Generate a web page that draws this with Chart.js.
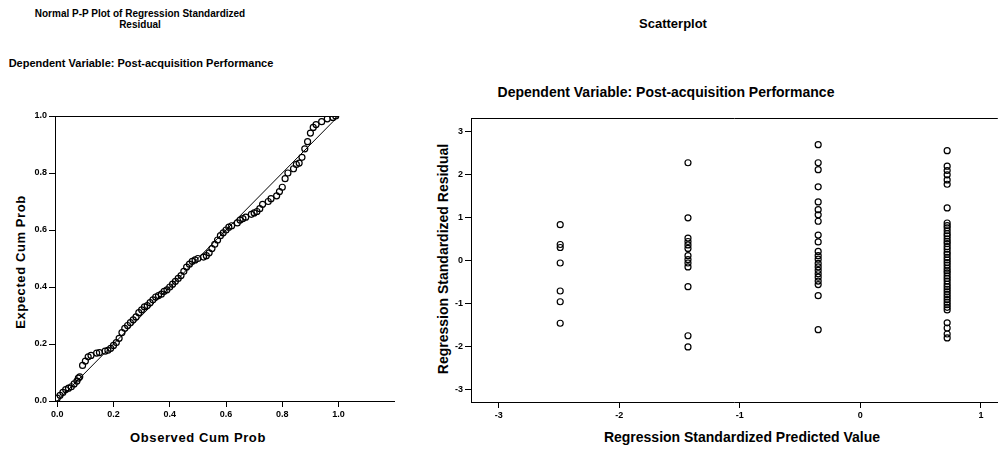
<!DOCTYPE html>
<html>
<head>
<meta charset="utf-8">
<script src="https://cdn.jsdelivr.net/npm/chart.js@4/dist/chart.umd.min.js"></script>
<style>
  html, body { margin: 0; padding: 0; background: #fff; }
  body { width: 1003px; height: 452px; overflow: hidden; position: relative;
         font-family: "Liberation Sans", Arial, sans-serif; font-weight: bold; color: #000; }
  .c { position: absolute; white-space: nowrap; text-align: center; transform: translate(-50%, -50%); }
  .v { transform: translate(-50%, -50%) rotate(-90deg); }
  canvas { position: absolute; top: 0; }
</style>
</head>
<body>
<div class="c" style="left:140px; top:19px; font-size:10px; line-height:11px;">Normal P-P Plot of Regression Standardized<br>Residual</div>
<div class="c" style="left:141px; top:63px; font-size:11px;">Dependent Variable: Post-acquisition Performance</div>
<div class="c" style="left:198px; top:437px; font-size:13px; letter-spacing:0.6px;">Observed Cum Prob</div>
<div class="c v" style="left:20px; top:262px; font-size:13px; letter-spacing:0.6px;">Expected Cum Prob</div>

<div class="c" style="left:673px; top:23px; font-size:13px;">Scatterplot</div>
<div class="c" style="left:666px; top:92px; font-size:14px;">Dependent Variable: Post-acquisition Performance</div>
<div class="c" style="left:742px; top:437px; font-size:14px;">Regression Standardized Predicted Value</div>
<div class="c v" style="left:443px; top:259px; font-size:14px;">Regression Standardized Residual</div>

<canvas id="pp" width="400" height="452" style="left:0;"></canvas>
<canvas id="sc" width="603" height="452" style="left:400px;"></canvas>

<script>
// ---- Normal P-P plot: observed vs expected cumulative probability ----
const ppTicks = [0.0, 0.2, 0.4, 0.6, 0.8, 1.0];
const ppDiagonal = [0, 1];
const ppObserved = [
  0.00, 0.01, 0.02, 0.03, 0.04, 0.05, 0.06, 0.07, 0.075, 0.08,
  0.09, 0.10, 0.11, 0.12, 0.14, 0.15, 0.17, 0.18, 0.19, 0.20,
  0.21, 0.22, 0.23, 0.24, 0.25, 0.26, 0.27, 0.28, 0.29, 0.30,
  0.31, 0.32, 0.33, 0.34, 0.35, 0.36, 0.37, 0.38, 0.39, 0.40,
  0.41, 0.42, 0.43, 0.44, 0.45, 0.46, 0.47, 0.48, 0.49, 0.50,
  0.52, 0.53, 0.54, 0.55, 0.56, 0.57, 0.58, 0.59, 0.60, 0.61,
  0.62, 0.64, 0.65, 0.66, 0.67, 0.69, 0.70, 0.71, 0.72, 0.73,
  0.75, 0.76, 0.78, 0.79, 0.80, 0.81, 0.82, 0.84, 0.85, 0.86,
  0.87, 0.88, 0.89, 0.90, 0.91, 0.92, 0.94, 0.96, 0.98, 0.99
];
const ppExpected = [
  0.010, 0.020, 0.030, 0.040, 0.045, 0.050, 0.060, 0.070, 0.080, 0.085,
  0.125, 0.140, 0.155, 0.160, 0.168, 0.170, 0.175, 0.178, 0.185, 0.195,
  0.205, 0.220, 0.240, 0.255, 0.265, 0.275, 0.285, 0.295, 0.310, 0.320,
  0.330, 0.335, 0.345, 0.355, 0.365, 0.370, 0.375, 0.385, 0.390, 0.400,
  0.410, 0.420, 0.430, 0.440, 0.455, 0.470, 0.480, 0.490, 0.495, 0.500,
  0.505, 0.510, 0.520, 0.535, 0.550, 0.565, 0.580, 0.590, 0.600, 0.610,
  0.615, 0.625, 0.635, 0.640, 0.645, 0.655, 0.660, 0.665, 0.675, 0.690,
  0.700, 0.710, 0.720, 0.735, 0.750, 0.780, 0.800, 0.815, 0.830, 0.835,
  0.855, 0.885, 0.910, 0.940, 0.960, 0.970, 0.980, 0.990, 0.995, 1.000
];

// ---- Scatterplot: standardized predicted value vs standardized residual ----
const predTicks = [-3, -2, -1, 0, 1];
const residTicks = [-3, -2, -1, 0, 1, 2, 3];
const predictedLevels = [-2.49, -1.43, -0.35, 0.72];
const residualsLevel1 = [0.84, 0.38, 0.31, -0.05, -0.70, -0.95, -1.45];
const residualsLevel2 = [2.28, 1.00, 0.53, 0.45, 0.37, 0.29, 0.12, 0.03, -0.05, -0.14, -0.60, -1.74, -2.00];
const residualsLevel3 = [2.70, 2.28, 2.12, 1.72, 1.37, 1.19, 1.07, 0.92, 0.60, 0.44, 0.22, 0.12, 0.04,
                         -0.06, -0.14, -0.22, -0.30, -0.38, -0.47, -0.55, -0.81, -1.60];
const residualsLevel4 = [2.56, 2.20, 2.10, 2.00, 1.88, 1.78, 1.23, 0.88, 0.82, 0.77, 0.70, 0.63, 0.58,
                         0.51, 0.45, 0.40, 0.33, 0.27, 0.20, 0.15, 0.08, 0.02, -0.04, -0.10, -0.17,
                         -0.23, -0.28, -0.35, -0.41, -0.47, -0.54, -0.60, -0.66, -0.72, -0.78, -0.84,
                         -0.90, -0.96, -1.02, -1.08, -1.14, -1.44, -1.56, -1.70, -1.79];

const FONT = '"Liberation Sans", Arial, sans-serif';

// thin frame line along the top of the plot area
const topRule = {
  id: 'topRule',
  afterDraw(chart, args, opts) {
    const { ctx, chartArea, scales } = chart;
    const xEnd = opts.to != null ? scales.x.getPixelForValue(opts.to) : chartArea.right;
    ctx.save();
    ctx.strokeStyle = '#000';
    ctx.lineWidth = 1;
    ctx.beginPath();
    ctx.moveTo(chartArea.left, Math.round(chartArea.top) + 0.5);
    ctx.lineTo(xEnd, Math.round(chartArea.top) + 0.5);
    ctx.stroke();
    ctx.restore();
  }
};

function axis(min, max, tickValues, fmt, fitSize, isX, fontSize) {
  return {
    type: 'linear',
    min: min,
    max: max,
    afterBuildTicks: s => { s.ticks = tickValues.map(v => ({ value: v })); },
    afterFit: s => { if (isX) s.height = fitSize; else s.width = fitSize; },
    grid: { display: true, drawOnChartArea: false, drawTicks: true, tickLength: 6, color: '#000', lineWidth: 1 },
    border: { display: true, color: '#000', width: 1 },
    ticks: {
      autoSkip: false, maxRotation: 0, padding: 2, color: '#000',
      font: { family: FONT, size: fontSize, weight: 'bold' },
      callback: v => fmt(v)
    }
  };
}

const hollow = {
  pointStyle: 'circle',
  pointRadius: 3,
  pointBorderWidth: 1.2,
  pointBorderColor: '#000',
  pointBackgroundColor: 'rgba(0,0,0,0)',
  borderColor: '#000',
  backgroundColor: 'rgba(0,0,0,0)',
  showLine: false
};

new Chart(document.getElementById('pp'), {
  type: 'scatter',
  data: {
    datasets: [
      {
        type: 'line',
        data: ppDiagonal.map(v => ({ x: v, y: v })),
        borderColor: '#000', borderWidth: 1, pointRadius: 0, fill: false, tension: 0
      },
      Object.assign({ data: ppObserved.map((x, i) => ({ x: x, y: ppExpected[i] })) }, hollow)
    ]
  },
  options: {
    responsive: false, animation: false, devicePixelRatio: 1,
    layout: { padding: { top: 116, right: 3, left: 0, bottom: 0 } },
    plugins: { legend: { display: false }, tooltip: { enabled: false }, topRule: { to: 1.0 } },
    scales: {
      x: axis(-0.008, 1.2, ppTicks, v => v.toFixed(1), 51, true, 9),
      y: axis(0, 1.0, ppTicks, v => v.toFixed(1), 55, false, 9)
    }
  },
  plugins: [topRule]
});

const levelSets = [residualsLevel1, residualsLevel2, residualsLevel3, residualsLevel4];
new Chart(document.getElementById('sc'), {
  type: 'scatter',
  data: {
    datasets: levelSets.map((vals, k) =>
      Object.assign({ data: vals.map(r => ({ x: predictedLevels[k], y: r })) }, hollow))
  },
  options: {
    responsive: false, animation: false, devicePixelRatio: 1,
    layout: { padding: { top: 118, right: 2, left: 0, bottom: 0 } },
    plugins: { legend: { display: false }, tooltip: { enabled: false }, topRule: {} },
    scales: {
      x: axis(-3.23, 1.14, predTicks, v => String(v), 50, true, 9),
      y: axis(-3.28, 3.32, residTicks, v => String(v), 71, false, 9)
    }
  },
  plugins: [topRule]
});
</script>
</body>
</html>
